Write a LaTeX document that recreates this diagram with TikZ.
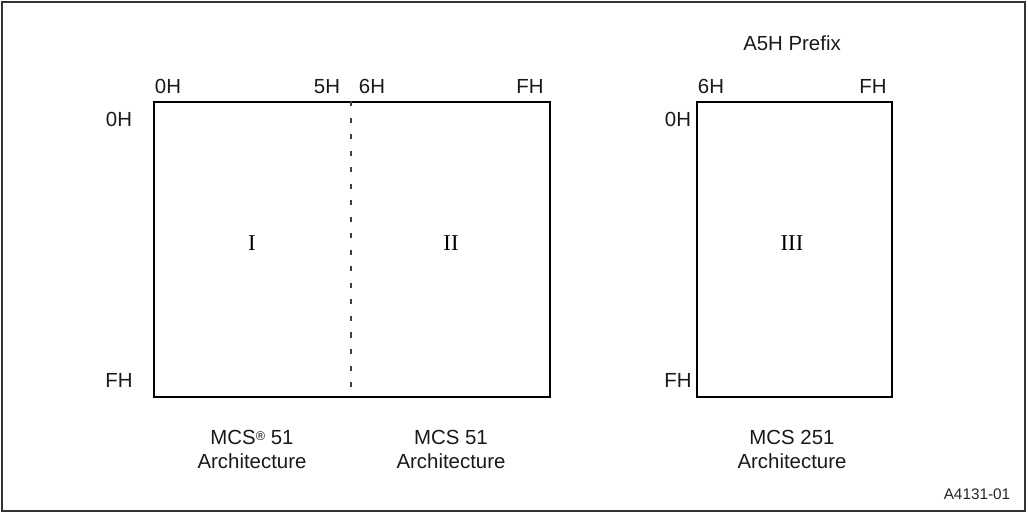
\documentclass[tikz,border=0pt]{standalone}
\usepackage{fontspec}
\setmainfont{Liberation Sans}
\newfontfamily\romfont{Liberation Serif}
\begin{document}
\begin{tikzpicture}[x=0.75pt,y=-0.75pt,
  lbl/.style={font=\fontsize{15.3}{17}\selectfont, inner sep=0pt, anchor=base, text=black!90},
  captext/.style={font=\fontsize{15.3}{18}\selectfont, inner sep=0pt, align=center, text=black!90},
  rom/.style={font=\romfont\fontsize{17}{18}\selectfont, inner sep=0pt, anchor=base},
  region/.style={draw=black, line width=1.8pt},
  divider/.style={draw=black!75, line width=1.1pt, dash pattern=on 3.8pt off 8.6pt},
  frame/.style={draw=black!80, line width=1.5pt}]
\useasboundingbox (0,0) rectangle (1028,515);
\draw[frame] (2,2) rectangle (1025,511);
% left region
\node[region, minimum width=396*0.75pt, minimum height=295*0.75pt, anchor=north west, inner sep=0pt] (box) at (153,101) {};
\coordinate (dtop) at (351,101);
\coordinate (dbot) at (351,395);
\draw[divider] (dtop) -- (dbot);
% right region
\node[region, minimum width=195*0.75pt, minimum height=295*0.75pt, anchor=north west, inner sep=0pt] (box3) at (696,101) {};
% top labels
\node[lbl] (c0) at (168,93) {0H};
\node[lbl] (c5) at (327,93) {5H};
\node[lbl] (c6) at (372,93) {6H};
\node[lbl] (cF) at (530,93) {FH};
\node[lbl] (r0) at (119,126) {0H};
\node[lbl] (rF) at (119,387) {FH};
\node[lbl] (d6) at (711,93) {6H};
\node[lbl] (dF) at (873,93) {FH};
\node[lbl] (s0) at (678,126) {0H};
\node[lbl] (sF) at (678,387) {FH};
\node[lbl] (pref) at (792,50) {A5H Prefix};
% roman numerals
\node[rom] (n1) at (252,250) {I};
\node[rom] (n2) at (451,250) {II};
\node[rom] (n3) at (792,250) {III};
% captions
\node[captext] (a1) at (252,449) {MCS\raisebox{0.35ex}{\fontsize{9.5}{9}\selectfont ®} 51\\Architecture};
\node[captext] (a2) at (451,449) {MCS 51\\Architecture};
\node[captext] (a3) at (792,449) {MCS 251\\Architecture};
\node[font=\fontsize{11.5}{12}\selectfont, inner sep=0pt, text=black!85] (fig) at (977,494) {A4131-01};
\end{tikzpicture}
\end{document}
